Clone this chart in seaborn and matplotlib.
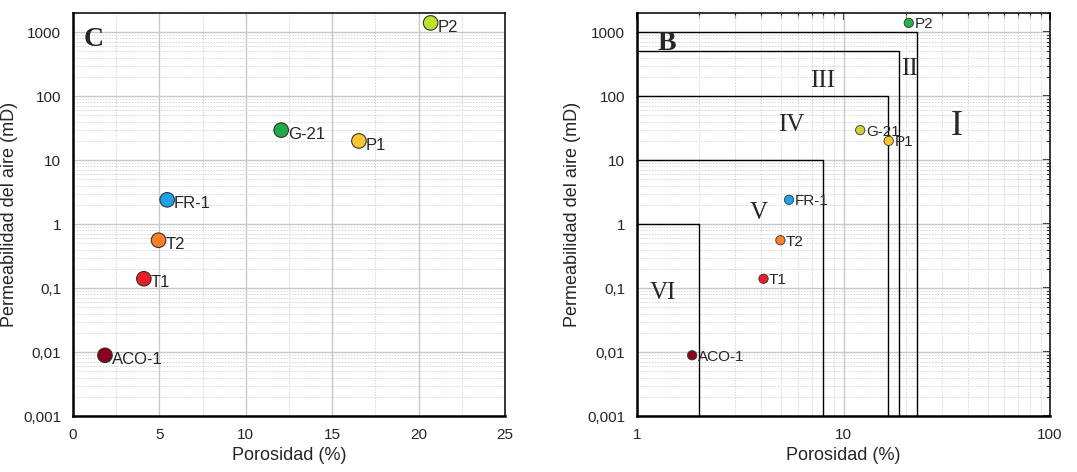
import numpy as np
import pandas as pd
import matplotlib
matplotlib.use("Agg")
import matplotlib.pyplot as plt
import matplotlib.ticker as mticker
import seaborn as sns

# ---------------- data ----------------
samples = ["P2", "G-21", "P1", "FR-1", "T2", "T1", "ACO-1"]
porosity = [20.7, 12.05, 16.55, 5.45, 4.95, 4.1, 1.85]        # %
permeability = [1400, 29.5, 20, 2.4, 0.56, 0.14, 0.0089]      # mD

colors_c = ["#bde02a", "#22a94a", "#fcc62c", "#1fa3e8", "#ff7f27", "#ec1c24", "#88001b"]
colors_b = ["#22b14c", "#cfd03c", "#fdc82a", "#1fa3e8", "#ff7f27", "#ec1c24", "#88001b"]

# classification boundaries in panel B (permeability limit, porosity limit)
class_k = [1000, 500, 100, 10, 1]
class_phi = [22.6, 18.6, 16.4, 8.0, 2.0]
class_names = ["I", "II", "III", "IV", "V", "VI"]

y_ticks = [0.001, 0.01, 0.1, 1, 10, 100, 1000]
y_ticklabels = ["0,001", "0,01", "0,1", "1", "10", "100", "1000"]

df = pd.DataFrame({"sample": samples, "phi": porosity, "k": permeability})

sns.set_style("white")
plt.rcParams["font.family"] = ["Liberation Sans", "DejaVu Sans"]

fig = plt.figure(figsize=(10.77, 4.72), dpi=100)
ax_c = fig.add_axes([0.0678, 0.1186, 0.401, 0.8539])
ax_b = fig.add_axes([0.5914, 0.1186, 0.3836, 0.8539])


def style_axis(ax):
    ax.set_yscale("log")
    ax.set_ylim(0.001, 2000)
    ax.yaxis.set_major_locator(mticker.FixedLocator(y_ticks))
    ax.yaxis.set_major_formatter(mticker.FixedFormatter(y_ticklabels))
    ax.yaxis.set_minor_locator(mticker.LogLocator(base=10, subs=np.arange(2, 10), numticks=20))
    ax.yaxis.set_minor_formatter(mticker.NullFormatter())
    ax.grid(which="major", color="#c8c8c8", lw=1.0, ls="-")
    ax.grid(which="minor", color="#d4d4d4", lw=0.7, ls=(0, (1.5, 1.5)))
    ax.set_axisbelow(True)
    for side, s in ax.spines.items():
        s.set_color("black")
        s.set_linewidth(1.8 if side in ("left", "bottom") else 1.1)
    ax.tick_params(which="major", length=5, width=1.2, labelsize=11, color="black")
    ax.tick_params(which="minor", length=3, width=0.8, color="black")
    ax.set_ylabel("Permeabilidad del aire (mD)", fontsize=13)
    ax.set_xlabel("Porosidad (%)", fontsize=13, labelpad=4)


# ---------------- panel C ----------------
sns.scatterplot(data=df, x="phi", y="k", hue="sample", palette=colors_c, s=110,
                edgecolor="#333333", linewidth=0.8, legend=False, ax=ax_c, zorder=5)
style_axis(ax_c)
ax_c.set_xlim(0, 25)
ax_c.xaxis.set_major_locator(mticker.MultipleLocator(5))
ax_c.xaxis.set_minor_locator(mticker.MultipleLocator(2.5))
for name, x, y in zip(samples, porosity, permeability):
    ax_c.annotate(name, (x, y), xytext=(5, -3), textcoords="offset points",
                  ha="left", va="center", fontsize=12)
ax_c.text(0.025, 0.935, "C", transform=ax_c.transAxes, fontsize=20, fontweight="bold",
          family="Liberation Serif", ha="left", va="center")

# ---------------- panel B ----------------
sns.scatterplot(data=df, x="phi", y="k", hue="sample", palette=colors_b, s=45,
                edgecolor="#333333", linewidth=0.6, legend=False, ax=ax_b, zorder=5)
style_axis(ax_b)
ax_b.set_xscale("log")
ax_b.set_xlim(1, 100)
ax_b.xaxis.set_major_locator(mticker.FixedLocator([1, 10, 100]))
ax_b.xaxis.set_major_formatter(mticker.FixedFormatter(["1", "10", "100"]))
ax_b.xaxis.set_minor_locator(mticker.LogLocator(base=10, subs=np.arange(2, 10), numticks=20))
ax_b.xaxis.set_minor_formatter(mticker.NullFormatter())

# inward ticks on top and right
top = ax_b.secondary_xaxis("top")
top.xaxis.set_major_locator(mticker.FixedLocator([1, 10, 100]))
top.xaxis.set_minor_locator(mticker.LogLocator(base=10, subs=np.arange(2, 10), numticks=20))
top.tick_params(which="both", direction="in", labeltop=False, color="black")
top.tick_params(which="major", length=5, width=1.2)
top.tick_params(which="minor", length=3, width=0.8)
top.spines["top"].set_visible(False)
right = ax_b.secondary_yaxis("right")
right.yaxis.set_major_locator(mticker.FixedLocator(y_ticks))
right.yaxis.set_minor_locator(mticker.LogLocator(base=10, subs=np.arange(2, 10), numticks=20))
right.tick_params(which="both", direction="in", labelright=False, color="black")
right.tick_params(which="major", length=5, width=1.2)
right.tick_params(which="minor", length=3, width=0.8)
right.spines["right"].set_visible(False)

for kk, pp in zip(class_k, class_phi):
    ax_b.plot([1, pp, pp], [kk, kk, 0.001], color="black", lw=1.0, zorder=3)

for name, x, y in zip(samples, porosity, permeability):
    ax_b.annotate(name, (x, y), xytext=(4, -1), textcoords="offset points",
                  ha="left", va="center", fontsize=11)

label_pos = [(35.3, 33), (20.8, 270), (7.97, 175), (5.6, 35), (3.9, 1.5), (1.34, 0.085)]
label_size = [26, 18, 18, 18, 18, 18]
for name, (x, y), fs in zip(class_names, label_pos, label_size):
    ax_b.text(x, y, name, fontsize=fs, family="Liberation Serif", ha="center", va="center")
ax_b.text(0.05, 0.925, "B", transform=ax_b.transAxes, fontsize=20, fontweight="bold",
          family="Liberation Serif", ha="left", va="center")

fig.savefig("out.png", dpi=100)
